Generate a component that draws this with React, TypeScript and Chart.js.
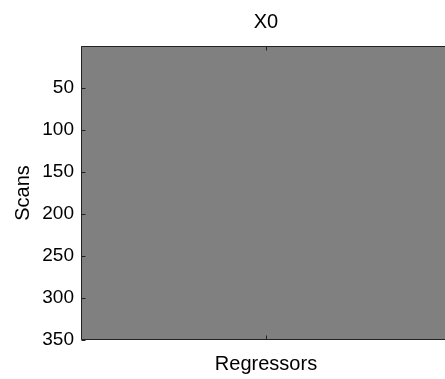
import React, { useEffect, useRef } from "react";
import { Chart, registerables } from "chart.js";

Chart.register(...registerables);

// ---- data ----
const REGRESSORS = ["1"];
const FIRST_SCAN = 0.5;
const LAST_SCAN = 350.5;
const X0_SPAN: [number, number][] = [[FIRST_SCAN, LAST_SCAN]];
const Y_TICKS = [50, 100, 150, 200, 250, 300, 350];
const TITLE = "X0";
const X_LABEL = "Regressors";
const Y_LABEL = "Scans";

const FONT = "'Liberation Sans', Arial, sans-serif";
const CANVAS_W = 480;
const CANVAS_H = 379;

const frameAndTicks = {
  id: "frameAndTicks",
  afterDatasetsDraw(chart: any) {
    const { ctx, chartArea } = chart;
    const y = chart.scales.y;
    const x = chart.scales.x;
    const len = 4;
    const l = Math.round(chartArea.left) + 0.5;
    const r = Math.round(chartArea.right) - 0.5;
    const t = Math.round(chartArea.top) + 0.5;
    const b = Math.round(chartArea.bottom) - 0.5;
    ctx.save();
    ctx.strokeStyle = "#222";
    ctx.lineWidth = 1;
    ctx.beginPath();
    ctx.rect(l, t, r - l, b - t);
    for (const v of Y_TICKS) {
      const py = Math.round(y.getPixelForValue(v)) + 0.5;
      ctx.moveTo(l, py);
      ctx.lineTo(l + len, py);
      ctx.moveTo(r, py);
      ctx.lineTo(r - len, py);
    }
    REGRESSORS.forEach((_, i) => {
      const px = Math.round(x.getPixelForValue(i)) + 0.5;
      ctx.moveTo(px, b);
      ctx.lineTo(px, b - len);
      ctx.moveTo(px, t);
      ctx.lineTo(px, t + len);
    });
    ctx.stroke();
    ctx.restore();
  },
};

export default function App() {
  const ref = useRef<HTMLCanvasElement>(null);
  useEffect(() => {
    if (!ref.current) return;
    const chart = new Chart(ref.current, {
      type: "bar",
      data: {
        labels: REGRESSORS,
        datasets: [
          {
            label: TITLE,
            data: X0_SPAN as any,
            backgroundColor: "#808080",
            borderWidth: 0,
            barPercentage: 1,
            categoryPercentage: 1,
          },
        ],
      },
      options: {
        responsive: false,
        animation: false,
        devicePixelRatio: 1,
        layout: { padding: { left: 0, right: 29, top: 0, bottom: 0 } },
        plugins: {
          legend: { display: false },
          tooltip: { enabled: false },
          title: { display: false },
        },
        scales: {
          x: {
            type: "category",
            position: "bottom",
            grid: { display: true, drawOnChartArea: false, drawTicks: false },
            border: { display: false },
            ticks: { display: false },
            title: {
              display: true,
              text: X_LABEL,
              color: "#000",
              font: { family: FONT, size: 20 },
              padding: { top: 0, bottom: 3 },
            },
            afterFit(scale: any) {
              scale.height = 39;
            },
          },
          x2: {
            type: "category",
            position: "top",
            labels: REGRESSORS,
            grid: { display: true, drawOnChartArea: false, drawTicks: false },
            border: { display: false },
            ticks: { display: false },
            title: {
              display: true,
              text: TITLE,
              color: "#000",
              font: { family: FONT, size: 20 },
              padding: { top: 10, bottom: 0 },
            },
            afterFit(scale: any) {
              scale.height = 46;
            },
          },
          y: {
            type: "linear",
            position: "left",
            reverse: true,
            min: FIRST_SCAN,
            max: LAST_SCAN,
            grid: { display: true, drawOnChartArea: false, drawTicks: false },
            border: { display: false },
            afterBuildTicks(scale: any) {
              scale.ticks = Y_TICKS.map((v) => ({ value: v }));
            },
            ticks: {
              color: "#000",
              font: { family: FONT, size: 19 },
              padding: 7,
              autoSkip: false,
              callback: (v: any) => String(v),
            },
            title: {
              display: true,
              text: Y_LABEL,
              color: "#000",
              font: { family: FONT, size: 20 },
              padding: { top: 11, bottom: 0 },
            },
            afterFit(scale: any) {
              scale.width = 81;
            },
          },
        },
      },
      plugins: [frameAndTicks],
    });
    return () => chart.destroy();
  }, []);

  return (
    <div
      style={{
        position: "fixed",
        left: 0,
        top: 0,
        width: 445,
        height: 379,
        overflow: "hidden",
        background: "#fff",
      }}
    >
      <canvas
        ref={ref}
        width={CANVAS_W}
        height={CANVAS_H}
        style={{ width: CANVAS_W, height: CANVAS_H, display: "block" }}
      />
    </div>
  );
}
